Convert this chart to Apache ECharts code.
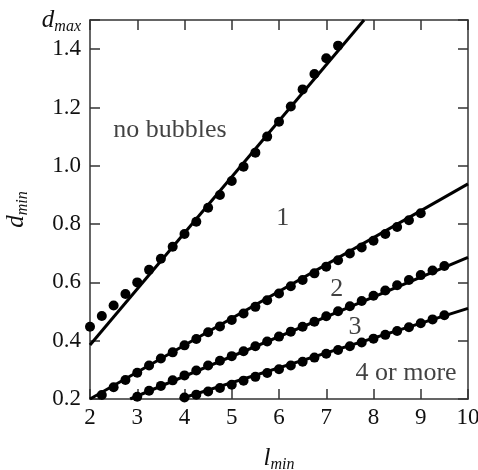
<!DOCTYPE html>
<html>
<head>
<meta charset="utf-8">
<script src="https://cdn.jsdelivr.net/npm/echarts@6/dist/echarts.min.js"></script>
<style>
  html, body { margin: 0; padding: 0; background: #fff; }
  #chart { width: 478px; height: 470px; }
</style>
</head>
<body>
<div id="chart"></div>
<script>
// measured points (l_min, d_min), step 0.25
const x1 = [2, 2.25, 2.5, 2.75, 3, 3.25, 3.5, 3.75, 4, 4.25, 4.5, 4.75, 5, 5.25, 5.5, 5.75, 6, 6.25, 6.5, 6.75, 7, 7.25];
const y1 = [0.448, 0.485, 0.521, 0.56, 0.6, 0.643, 0.681, 0.722, 0.766, 0.808, 0.856, 0.9, 0.948, 0.997, 1.045, 1.1, 1.151, 1.203, 1.262, 1.315, 1.369, 1.412];

const x2 = [2.25, 2.5, 2.75, 3, 3.25, 3.5, 3.75, 4, 4.25, 4.5, 4.75, 5, 5.25, 5.5, 5.75, 6, 6.25, 6.5, 6.75, 7, 7.25, 7.5, 7.75, 8, 8.25, 8.5, 8.75, 9];
const y2 = [0.214, 0.24, 0.265, 0.29, 0.315, 0.339, 0.36, 0.384, 0.406, 0.429, 0.449, 0.471, 0.493, 0.516, 0.539, 0.562, 0.587, 0.608, 0.631, 0.654, 0.676, 0.699, 0.72, 0.743, 0.766, 0.79, 0.813, 0.837];

const x3 = [3, 3.25, 3.5, 3.75, 4, 4.25, 4.5, 4.75, 5, 5.25, 5.5, 5.75, 6, 6.25, 6.5, 6.75, 7, 7.25, 7.5, 7.75, 8, 8.25, 8.5, 8.75, 9, 9.25, 9.5];
const y3 = [0.208, 0.228, 0.245, 0.264, 0.281, 0.298, 0.315, 0.331, 0.347, 0.364, 0.381, 0.397, 0.414, 0.431, 0.448, 0.465, 0.484, 0.501, 0.518, 0.536, 0.554, 0.572, 0.59, 0.608, 0.625, 0.641, 0.656];

const x4 = [4, 4.25, 4.5, 4.75, 5, 5.25, 5.5, 5.75, 6, 6.25, 6.5, 6.75, 7, 7.25, 7.5, 7.75, 8, 8.25, 8.5, 8.75, 9, 9.25, 9.5];
const y4 = [0.205, 0.215, 0.226, 0.238, 0.249, 0.263, 0.276, 0.289, 0.302, 0.315, 0.328, 0.342, 0.355, 0.368, 0.381, 0.394, 0.407, 0.42, 0.433, 0.446, 0.46, 0.473, 0.487];

// fitted boundary lines, end points
const fit1 = [[2, 0.385], [7.8, 1.5]];
const fit2 = [[2, 0.2], [10, 0.938]];
const fit3 = [[2.85, 0.2], [10, 0.686]];
const fit4 = [[3.9, 0.2], [10, 0.511]];

// region labels
const regionNames = ['no bubbles', '1', '2', '3', '4 or more'];
const regionX = [3.69, 6.08, 7.22, 7.61, 8.69];
const regionY = [1.123, 0.821, 0.576, 0.448, 0.29];

const FONT = 'Liberation Serif';
const INK = '#111';

function pairs(xs, ys) {
  return xs.map((x, i) => [x, ys[i]]);
}

const chart = echarts.init(document.getElementById('chart'));

const subRich = {
  d: { fontFamily: FONT, fontStyle: 'italic', fontSize: 25, color: INK, lineHeight: 30, verticalAlign: 'middle' },
  s: { fontFamily: FONT, fontStyle: 'italic', fontSize: 16, color: INK, lineHeight: 30, verticalAlign: 'bottom', padding: [8, 0, 0, 0] }
};

const lineStyle = { color: '#333', width: 1.5 };

const fitSeries = [fit1, fit2, fit3, fit4].map(f => ({
  type: 'line',
  data: f,
  showSymbol: false,
  symbol: 'none',
  lineStyle: { color: '#000', width: 3 },
  silent: true,
  z: 2
}));

const dotSeries = [pairs(x1, y1), pairs(x2, y2), pairs(x3, y3), pairs(x4, y4)].map(d => ({
  type: 'scatter',
  data: d,
  symbol: 'circle',
  symbolSize: 10,
  itemStyle: { color: '#000', opacity: 1 },
  z: 3
}));

const option = {
  animation: false,
  backgroundColor: '#fff',
  textStyle: { fontFamily: FONT },
  grid: { left: 90, right: 10, top: 20, bottom: 71, outerBoundsMode: 'none' },
  xAxis: [
    {
      type: 'value', min: 2, max: 10, interval: 1, position: 'bottom',
      axisLine: { show: true, onZero: false, lineStyle: lineStyle },
      axisTick: { show: true, inside: true, length: 10, lineStyle: lineStyle },
      axisLabel: { fontFamily: FONT, fontSize: 23, color: INK, margin: 7 },
      splitLine: { show: false },
      name: '{d|l}{s|min}',
      nameLocation: 'middle',
      nameGap: 44,
      nameTextStyle: { rich: subRich }
    },
    {
      type: 'value', min: 2, max: 10, interval: 1, position: 'top',
      axisLine: { show: true, onZero: false, lineStyle: lineStyle },
      axisTick: { show: true, inside: true, length: 10, lineStyle: lineStyle },
      axisLabel: { show: false },
      splitLine: { show: false }
    }
  ],
  yAxis: [
    {
      type: 'value', min: 0.2, max: 1.5, interval: 0.2, position: 'left',
      axisLine: { show: true, onZero: false, lineStyle: lineStyle },
      axisTick: { show: true, inside: true, length: 10, lineStyle: lineStyle },
      axisLabel: {
        fontFamily: FONT, fontSize: 23, color: INK, margin: 9,
        formatter: v => (Math.abs(v - 1.5) < 1e-6 ? '{d|d}{s|max}' : v.toFixed(1)),
        rich: subRich
      },
      splitLine: { show: false },
      name: '{d|d}{s|min}',
      nameLocation: 'middle',
      nameGap: 52,
      nameTextStyle: { rich: subRich }
    },
    {
      type: 'value', min: 0.2, max: 1.5, interval: 0.2, position: 'right',
      axisLine: { show: true, onZero: false, lineStyle: lineStyle },
      axisTick: { show: true, inside: true, length: 10, lineStyle: lineStyle },
      axisLabel: { show: false },
      splitLine: { show: false }
    }
  ],
  series: fitSeries.concat(dotSeries).concat([
    {
      type: 'scatter',
      data: regionNames.map((n, i) => ({ name: n, value: [regionX[i], regionY[i]] })),
      symbolSize: 0,
      silent: true,
      label: {
        show: true, position: 'inside', formatter: p => p.name,
        fontFamily: FONT, fontSize: 26, color: INK
      },
      z: 4
    }
  ])
};

chart.setOption(option);
</script>
</body>
</html>
